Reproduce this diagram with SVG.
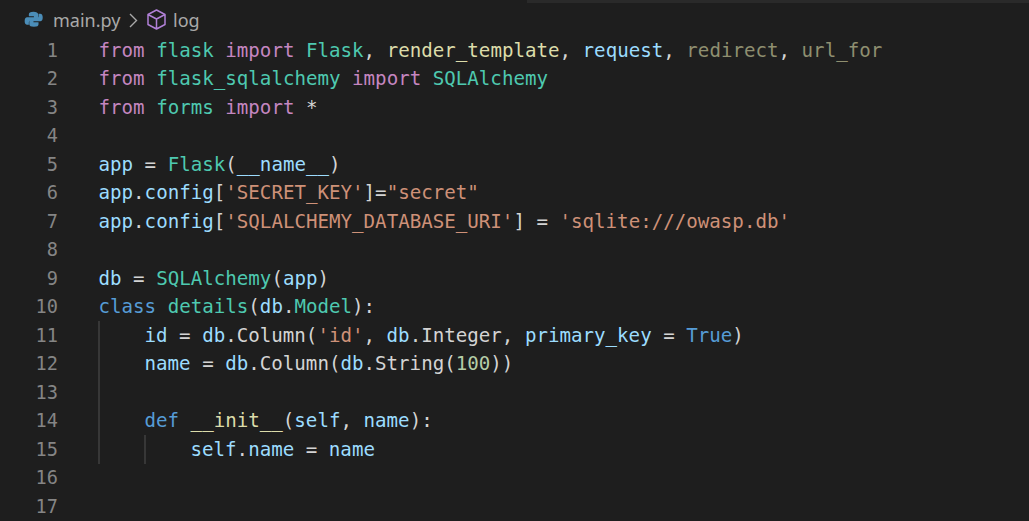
<svg xmlns="http://www.w3.org/2000/svg" width="1029" height="521" viewBox="0 0 1029 521">
<style>
text{white-space:pre}
.c{font-family:"DejaVu Sans Mono","Liberation Mono",monospace;font-size:19.15px;fill:#d4d4d4}
.n{font-family:"DejaVu Sans Mono","Liberation Mono",monospace;font-size:18.6px;fill:#858585;text-anchor:end}
.b{font-family:"Noto Sans","Liberation Sans",sans-serif;font-size:18px;fill:#a9a9a9}
.k{fill:#c586c0}.t{fill:#4ec9b0}.f{fill:#dcdcaa}.v{fill:#9cdcfe}.s{fill:#ce9178}.l{fill:#569cd6}.d{fill:#b5cea8}.u{fill:#8f8f70}.g{stroke:#404040;stroke-width:1.5}
</style>
<rect width="1029" height="521" fill="#1e1e1e"/>
<rect x="527" y="0" width="502" height="3" fill="#2a2a2a"/>
<g id="python-icon" transform="translate(4.500 1.600) scale(0.84)">
<path d="M34.500 12c-4 0-5.500 1-5.500 3v2.500h6v1h-8c-2 0-3 1.500-3 4.500s1 4.500 3 4.500h2v-2.500c0-2 1.500-3 3-3h5.500c1.500 0 2.500-1 2.500-2.500V15c0-2-2-3-5.500-3z" fill="#4b8db8"/>
<path d="M35 30c4 0 5.500-1 5.500-3v-2.500h-6v-1h8c2 0 3-1.500 3-4.500s-1-4.500-3-4.500h-2V17c0 2-1.500 3-3 3H32c-1.500 0-2.500 1-2.500 2.500V27c0 2 2 3 5.500 3z" fill="#4b8db8"/>
</g>
<g id="breadcrumb">
<text class="b" x="53" y="27">main.py</text>
<path d="M130 14l6.500 6.500L130 27" fill="none" stroke="#a9a9a9" stroke-width="1.400"/>
<path d="M156.500 10l8.500 4.500v10L156.500 29 148 24.500v-10zM148 14.500l8.500 4.500 8.500-4.500M156.500 19v10" fill="none" stroke="#b180d7" stroke-width="1.500" stroke-linejoin="round"/>
<text class="b" x="173" y="27">log</text>
</g>
<g id="indent-guides">
<line class="g" x1="99" y1="321" x2="99" y2="464"/>
<line class="g" x1="145" y1="435" x2="145" y2="464"/>
</g>
<g id="line-numbers">
<text class="n" x="58" y="57">1</text>
<text class="n" x="58" y="85">2</text>
<text class="n" x="58" y="114">3</text>
<text class="n" x="58" y="142">4</text>
<text class="n" x="58" y="171">5</text>
<text class="n" x="58" y="199">6</text>
<text class="n" x="58" y="228">7</text>
<text class="n" x="58" y="256">8</text>
<text class="n" x="58" y="285">9</text>
<text class="n" x="58" y="313">10</text>
<text class="n" x="58" y="342">11</text>
<text class="n" x="58" y="370">12</text>
<text class="n" x="58" y="399">13</text>
<text class="n" x="58" y="427">14</text>
<text class="n" x="58" y="456">15</text>
<text class="n" x="58" y="484">16</text>
<text class="n" x="58" y="513">17</text>
</g>
<g id="code">
<text class="c" x="98.500" y="57"><tspan class="k">from</tspan> <tspan class="t">flask</tspan> <tspan class="k">import</tspan> <tspan class="t">Flask</tspan>, <tspan class="f">render_template</tspan>, <tspan class="v">request</tspan>, <tspan class="u">redirect</tspan>, <tspan class="u">url_for</tspan></text>
<text class="c" x="98.500" y="85"><tspan class="k">from</tspan> <tspan class="t">flask_sqlalchemy</tspan> <tspan class="k">import</tspan> <tspan class="t">SQLAlchemy</tspan></text>
<text class="c" x="98.500" y="114"><tspan class="k">from</tspan> <tspan class="t">forms</tspan> <tspan class="k">import</tspan> *</text>
<text class="c" x="98.500" y="171"><tspan class="v">app</tspan> = <tspan class="t">Flask</tspan>(<tspan class="v">__name__</tspan>)</text>
<text class="c" x="98.500" y="199"><tspan class="v">app</tspan>.<tspan class="v">config</tspan>[<tspan class="s">'SECRET_KEY'</tspan>]=<tspan class="s">"secret"</tspan></text>
<text class="c" x="98.500" y="228"><tspan class="v">app</tspan>.<tspan class="v">config</tspan>[<tspan class="s">'SQLALCHEMY_DATABASE_URI'</tspan>] = <tspan class="s">'sqlite:///owasp.db'</tspan></text>
<text class="c" x="98.500" y="285"><tspan class="v">db</tspan> = <tspan class="t">SQLAlchemy</tspan>(<tspan class="v">app</tspan>)</text>
<text class="c" x="98.500" y="313"><tspan class="l">class</tspan> <tspan class="t">details</tspan>(<tspan class="v">db</tspan>.<tspan class="t">Model</tspan>):</text>
<text class="c" x="144.500" y="342"><tspan class="v">id</tspan> = <tspan class="v">db</tspan>.Column(<tspan class="s">'id'</tspan>, <tspan class="v">db</tspan>.Integer, <tspan class="v">primary_key</tspan> = <tspan class="l">True</tspan>)</text>
<text class="c" x="144.500" y="370"><tspan class="v">name</tspan> = <tspan class="v">db</tspan>.Column(<tspan class="v">db</tspan>.String(<tspan class="d">100</tspan>))</text>
<text class="c" x="144.500" y="427"><tspan class="l">def</tspan> <tspan class="f">__init__</tspan>(<tspan class="v">self</tspan>, <tspan class="v">name</tspan>):</text>
<text class="c" x="190.500" y="456"><tspan class="v">self</tspan>.<tspan class="v">name</tspan> = <tspan class="v">name</tspan></text>
</g>
</svg>
